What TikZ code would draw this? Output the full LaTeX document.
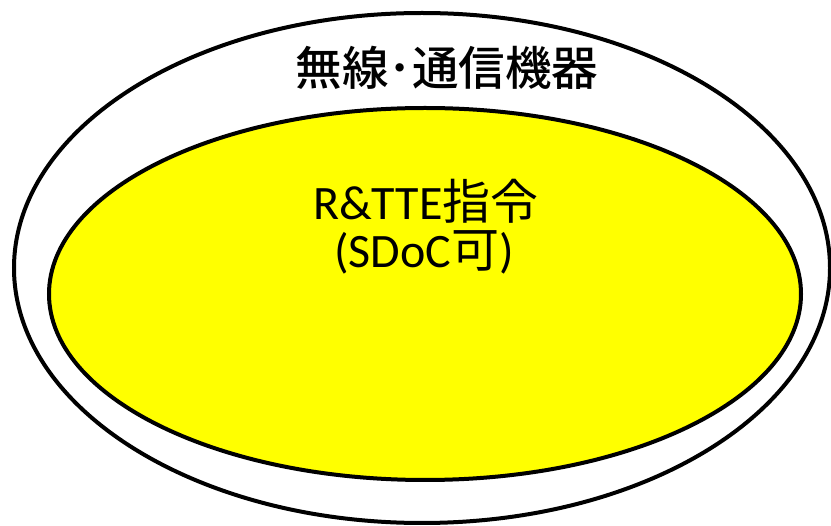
\documentclass[tikz,border=0pt]{standalone}
\usepackage{fontspec}
\usetikzlibrary{shapes.geometric}
\setmainfont{Carlito}
\newfontfamily\jp{Noto Sans CJK JP}[BoldFont={Noto Sans CJK JP Medium}]
\definecolor{pureyellow}{RGB}{255,255,0}
\begin{document}
\begin{tikzpicture}[x=1pt,y=-1pt,
  ring/.style={draw=black,line width=4pt},
  lbl/.style={inner sep=0pt,anchor=base}]
\useasboundingbox (0,0) rectangle (831,526);
\fill[white] (0,0) rectangle (831,526);
\node[ring,ellipse,minimum width=816pt,minimum height=510pt,inner sep=0pt] (outer) at (422,268) {};
\node[ring,ellipse,fill=pureyellow,minimum width=752pt,minimum height=372pt,inner sep=0pt] (inner) at (425,294) {};
\node[lbl] (title) at (447,86) {\fontsize{46.5pt}{50pt}\selectfont\jp\bfseries 無線･通信機器};
\node[lbl] (l1) at (426,220) {\fontsize{48pt}{52pt}\selectfont R\&TTE{\jp 指令}};
\node[lbl] (l2) at (424,268) {\fontsize{48pt}{52pt}\selectfont (SDoC{\jp 可})};
\end{tikzpicture}
\end{document}
